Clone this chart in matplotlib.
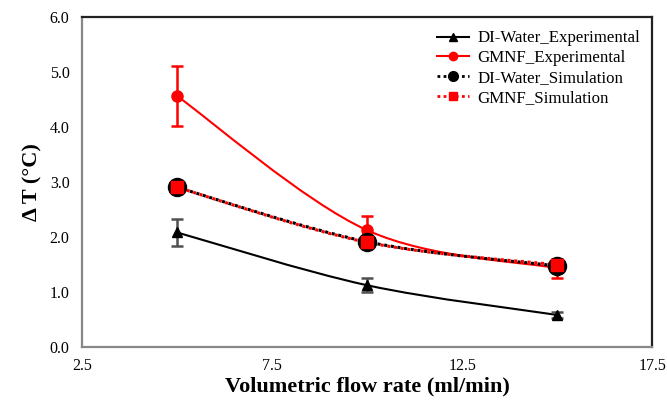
import numpy as np
import matplotlib
matplotlib.use("Agg")
import matplotlib.pyplot as plt
from matplotlib.path import Path
from matplotlib.patches import PathPatch
from matplotlib.lines import Line2D

plt.rcParams['font.family'] = ['Liberation Serif', 'DejaVu Serif']

# Flow rates (ml/min)
flow = [5, 10, 15]

# Measured temperature rise with error bars
di_exp = [2.08, 1.12, 0.58]
di_exp_err = [0.24, 0.13, 0.06]
gmnf_exp = [4.56, 2.12, 1.43]
gmnf_exp_err = [0.55, 0.26, 0.17]

# Simulated temperature rise
di_sim = [2.90, 1.91, 1.47]
gmnf_sim = [2.90, 1.90, 1.49]

x_ticks = [2.5, 7.5, 12.5, 17.5]
y_ticks = [0.0, 1.0, 2.0, 3.0, 4.0, 5.0, 6.0]


# Builds an Excel-like smoothed path through the points
def smooth_path(xs, ys):
    pts = np.column_stack([xs, ys]).astype(float)
    n = len(pts)
    verts = [pts[0]]
    codes = [Path.MOVETO]
    for i in range(n - 1):
        p0 = pts[max(i - 1, 0)]
        p1 = pts[i]
        p2 = pts[i + 1]
        p3 = pts[min(i + 2, n - 1)]
        c1 = p1 + (p2 - p0) / 6.0
        c2 = p2 - (p3 - p1) / 6.0
        verts += [c1, c2, p2]
        codes += [Path.CURVE4] * 3
    return Path(verts, codes)


def add_curve(ax, xs, ys, **kw):
    patch = PathPatch(smooth_path(xs, ys), fill=False, **kw)
    ax.add_patch(patch)


fig = plt.figure(figsize=(6.67, 4.01), dpi=100)
ax = fig.add_axes([0.123, 0.135, 0.855, 0.823])

# Curves
add_curve(ax, flow, di_exp, edgecolor='black', lw=1.5, zorder=2)
add_curve(ax, flow, gmnf_exp, edgecolor='red', lw=1.5, zorder=2)
add_curve(ax, flow, di_sim, edgecolor='black', lw=2.2, linestyle=(0, (1, 1.2)), zorder=2)
add_curve(ax, flow, gmnf_sim, edgecolor='red', lw=2.2, linestyle=(1.1, (1, 1.2)), zorder=2)

# Error bars
ax.errorbar(flow, di_exp, yerr=di_exp_err, fmt='none', ecolor='#505050',
            elinewidth=1.8, capsize=4.5, capthick=1.8, zorder=3)
ax.errorbar(flow, gmnf_exp, yerr=gmnf_exp_err, fmt='none', ecolor='red',
            elinewidth=1.8, capsize=4.5, capthick=1.8, zorder=3)

# Markers
ax.plot(flow, di_exp, linestyle='none', marker='^', ms=7.5, color='black', zorder=4)
ax.plot(flow, gmnf_exp, linestyle='none', marker='o', ms=8, color='red', zorder=4)
ax.plot(flow, di_sim, linestyle='none', marker='o', ms=13, color='black', zorder=4)
ax.plot(flow, gmnf_sim, linestyle='none', marker='s', ms=9, color='red', zorder=5)

ax.set_xlim(x_ticks[0], x_ticks[-1])
ax.set_ylim(y_ticks[0], y_ticks[-1])
ax.set_xticks(x_ticks)
ax.set_xticklabels([f"{v:.1f}" for v in x_ticks])
ax.set_yticks(y_ticks)
ax.set_yticklabels([f"{v:.1f}" for v in y_ticks])
ax.tick_params(length=0, labelsize=11.5, pad=9)
ax.tick_params(axis='x', pad=8)

ax.spines['left'].set_color('#888888')
ax.spines['bottom'].set_color('#888888')
ax.spines['top'].set_color('#222222')
ax.spines['right'].set_color('#222222')
for s in ax.spines.values():
    s.set_linewidth(1.6)

ax.set_xlabel('Volumetric flow rate (ml/min)', fontsize=16, fontweight='bold', labelpad=2)
ax.set_ylabel('Δ T (°C)', fontsize=16, fontweight='bold', labelpad=5)

handles = [
    Line2D([], [], color='black', lw=1.5, marker='^', ms=6),
    Line2D([], [], color='red', lw=1.5, marker='o', ms=6),
    Line2D([], [], color='black', lw=2, linestyle=(0, (1, 1.2)), marker='o', ms=7),
    Line2D([], [], color='red', lw=2, linestyle=(0, (1, 1.2)), marker='s', ms=6),
]
labels = ['DI-Water_Experimental', 'GMNF_Experimental',
          'DI-Water_Simulation', 'GMNF_Simulation']
ax.legend(handles, labels, loc='upper right', bbox_to_anchor=(1.005, 1.005),
          frameon=False, fontsize=12.2, handlelength=1.9, handletextpad=0.5,
          labelspacing=0.22)

fig.savefig('out.png', dpi=100)
